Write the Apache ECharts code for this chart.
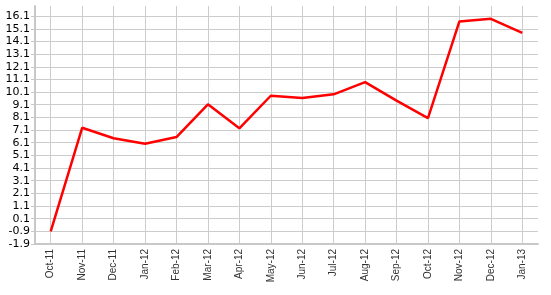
<!DOCTYPE html>
<html>
<head>
<meta charset="utf-8">
<script src="https://cdn.jsdelivr.net/npm/echarts@6/dist/echarts.min.js"></script>
<style>html,body{margin:0;padding:0;background:#fff}#c{width:551px;height:295px}</style>
</head>
<body>
<div id="c"></div>
<script>
var categories = ['Oct-11','Nov-11','Dec-11','Jan-12','Feb-12','Mar-12','Apr-12','May-12','Jun-12','Jul-12','Aug-12','Sep-12','Oct-12','Nov-12','Dec-12','Jan-13'];
var values = [-0.9, 7.28, 6.45, 6.02, 6.55, 9.13, 7.24, 9.81, 9.63, 9.92, 10.89, 9.42, 8.05, 15.68, 15.89, 14.78];
var yMin = -1.9, yMax = 16.9, yStep = 1;

var chart = echarts.init(document.getElementById('c'), null, {renderer: 'canvas'});
chart.setOption({
  animation: false,
  backgroundColor: '#fff',
  grid: {left: 35, right: 13, top: 6, bottom: 51, containLabel: false},
  xAxis: {
    type: 'category',
    data: categories,
    boundaryGap: true,
    axisLine: {onZero: false, lineStyle: {color: '#c8c8c8', width: 2}},
    axisTick: {alignWithLabel: true, length: 4, lineStyle: {color: '#c8c8c8'}},
    splitLine: {show: true, alignWithLabel: true, lineStyle: {color: '#cccccc', width: 1}},
    axisLabel: {rotate: 90, fontFamily: 'Liberation Sans', fontSize: 10, color: '#333', margin: 5, interval: 0}
  },
  yAxis: {
    type: 'value',
    min: yMin, max: yMax, interval: yStep,
    axisLine: {show: true, onZero: false, lineStyle: {color: '#c8c8c8', width: 2}},
    axisTick: {show: true, length: 4, lineStyle: {color: '#c8c8c8'}},
    splitLine: {show: true, showMinLine: false, showMaxLine: false, lineStyle: {color: '#cccccc', width: 1}},
    axisLabel: {showMaxLabel: false, fontFamily: 'DejaVu Sans', fontSize: 11, color: '#000', margin: 5,
      formatter: function (v) { return (Math.round(v * 10) / 10).toFixed(1); }}
  },
  series: [{
    type: 'line',
    data: values,
    showSymbol: false,
    symbol: 'none',
    lineStyle: {color: '#ff0000', width: 2.5},
    itemStyle: {color: '#ff0000'}
  }]
});
</script>
</body>
</html>
